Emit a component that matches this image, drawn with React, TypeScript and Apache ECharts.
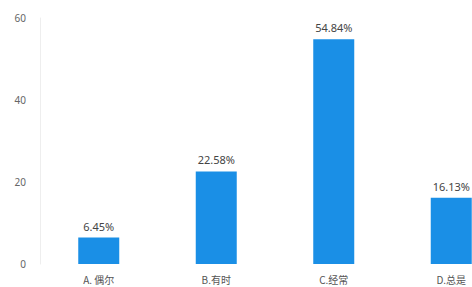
import React, { useEffect, useRef } from "react";
import * as echarts from "echarts";

const categories = ["A. 偶尔", "B.有时", "C.经常", "D.总是"];
const values = [6.45, 22.58, 54.84, 16.13];

export default function App() {
  const ref = useRef<HTMLDivElement>(null);
  useEffect(() => {
    if (!ref.current) return;
    const chart = echarts.init(ref.current, null, { renderer: "svg" });
    chart.setOption({
      animation: false,
      backgroundColor: "#ffffff",
      grid: { left: 40, right: 0, top: 18, bottom: 23 },
      xAxis: {
        type: "category",
        data: categories,
        axisLine: { show: false },
        axisTick: { show: false },
        axisLabel: { color: "#555", fontSize: 10, margin: 10, fontFamily: "Noto Sans CJK SC" },
      },
      yAxis: {
        type: "value",
        min: 0,
        max: 60,
        interval: 20,
        axisLine: { show: true, lineStyle: { color: "#eeeeee" } },
        axisTick: { show: false },
        splitLine: { show: false },
        axisLabel: { color: "#666", fontSize: 10, margin: 14, fontFamily: "Noto Sans" },
      },
      series: [
        {
          type: "bar",
          data: values,
          barWidth: 41,
          itemStyle: { color: "#1a8fe6" },
          label: {
            show: true,
            position: "top",
            distance: 6,
            formatter: (p: any) => p.value.toFixed(2) + "%",
            color: "#444",
            fontSize: 11,
            fontFamily: "Noto Sans",
          },
        },
      ],
    });
    return () => chart.dispose();
  }, []);
  return (
    <div style={{ position: "fixed", left: 0, top: 0, width: 472, height: 287, overflow: "hidden", background: "#fff" }}>
      <div ref={ref} style={{ width: 510, height: 287 }} />
    </div>
  );
}
